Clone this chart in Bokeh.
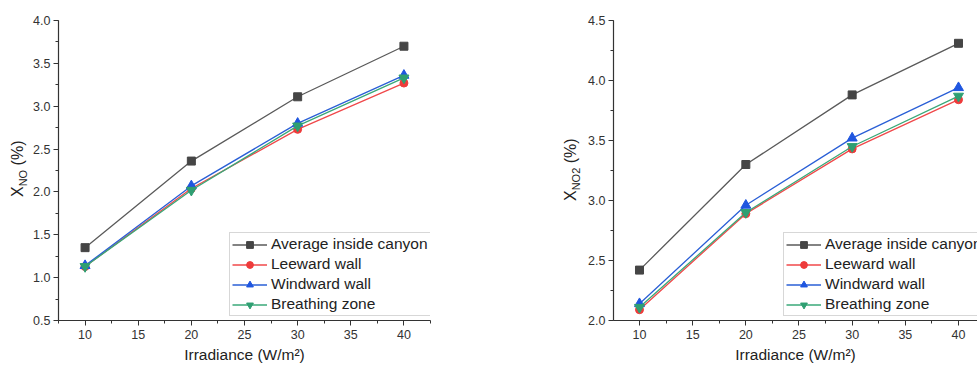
from bokeh.plotting import figure
from bokeh.layouts import row
from bokeh.models import Range1d, FixedTicker, PrintfTickFormatter, Legend, Div
from bokeh.embed import file_html
from bokeh.resources import INLINE

# ---- data ----
irradiance = [10, 20, 30, 40]
x_ticks = [10, 15, 20, 25, 30, 35, 40]
series_names = ["Average inside canyon", "Leeward wall", "Windward wall", "Breathing zone"]

no_average = [1.35, 2.36, 3.11, 3.70]
no_leeward = [1.13, 2.04, 2.73, 3.27]
no_windward = [1.14, 2.07, 2.80, 3.36]
no_breathing = [1.13, 2.02, 2.77, 3.33]
no_y_ticks = [0.5, 1.0, 1.5, 2.0, 2.5, 3.0, 3.5, 4.0]

no2_average = [2.42, 3.30, 3.88, 4.31]
no2_leeward = [2.09, 2.89, 3.43, 3.84]
no2_windward = [2.14, 2.96, 3.52, 3.94]
no2_breathing = [2.11, 2.90, 3.45, 3.87]
no2_y_ticks = [2.0, 2.5, 3.0, 3.5, 4.0, 4.5]

x_label = "Irradiance (W/m²)"
y_label_no = ("X", "NO", " (%)")
y_label_no2 = ("X", "NO2", " (%)")

FONT = "Liberation Sans"
H = 367
TOP = 20
BOTTOM = 47
styles = [
    dict(line="#5a5a5a", fill="#454545", marker="square", size=8),
    dict(line="#f0484a", fill="#ee3b3b", marker="circle", size=8),
    dict(line="#2a5fd6", fill="#1f56e0", marker="triangle", size=10),
    dict(line="#3aa878", fill="#2f9f72", marker="inverted_triangle", size=10),
]


def make_fig(width, border_left, border_right, xr, yr, yticks, series, legend_x):
    p = figure(width=width, height=H, output_backend="svg", toolbar_location=None,
               x_range=Range1d(*xr), y_range=Range1d(*yr),
               min_border_left=border_left, min_border_right=border_right,
               min_border_top=TOP, min_border_bottom=BOTTOM)
    p.outline_line_color = None
    p.xgrid.visible = False
    p.ygrid.visible = False
    p.background_fill_color = "white"
    p.border_fill_color = "white"

    p.xaxis.ticker = FixedTicker(ticks=x_ticks, minor_ticks=[7.5 + 2.5 * i for i in range(15)])
    p.yaxis.ticker = FixedTicker(ticks=yticks,
                                 minor_ticks=[yticks[0] + 0.25 * i for i in range(2 * len(yticks))])
    p.yaxis.formatter = PrintfTickFormatter(format="%.1f")
    for ax in (p.xaxis, p.yaxis):
        ax.axis_line_color = "#333333"
        ax.axis_line_width = 1.2
        ax.major_tick_line_color = "#333333"
        ax.minor_tick_line_color = "#333333"
        ax.major_tick_out = 5
        ax.major_tick_in = 0
        ax.minor_tick_out = 3
        ax.minor_tick_in = 0
        ax.major_label_text_font = FONT
        ax.major_label_text_font_size = "12.5px"
        ax.major_label_text_color = "#333333"
    p.xaxis.major_label_standoff = 4
    p.yaxis.major_label_standoff = 3
    p.xaxis.axis_label = x_label
    p.xaxis.axis_label_text_font = FONT
    p.xaxis.axis_label_text_font_size = "15.5px"
    p.xaxis.axis_label_text_font_style = "normal"
    p.xaxis.axis_label_text_color = "#222222"
    p.xaxis.axis_label_standoff = 4

    items = []
    for (name, ys, st) in zip(series_names, series, styles):
        r1 = p.line(irradiance, ys, line_color=st["line"], line_width=1.3)
        r2 = p.scatter(irradiance, ys, marker=st["marker"], size=st["size"],
                       fill_color=st["fill"], line_color=st["fill"])
        items.append((name, [r1, r2]))

    legend = Legend(items=items, location=(legend_x, 4))
    legend.label_text_font = FONT
    legend.label_text_font_size = "15.5px"
    legend.label_text_color = "#222222"
    legend.glyph_width = 35
    legend.glyph_height = 17
    legend.label_height = 17
    legend.spacing = 2
    legend.padding = 2
    legend.margin = 0
    legend.label_standoff = 4
    legend.border_line_color = "#b0b0b0"
    legend.border_line_width = 1
    legend.background_fill_alpha = 1.0
    p.add_layout(legend, "center")
    return p


def label_div(width, left, bottom, parts):
    """Narrow HTML panel holding the rotated y-axis title with a real subscript."""
    main, sub, rest = parts
    html = (
        f'<div style="position:relative;width:{width}px;height:{H}px;overflow:visible;">'
        f'<div style="position:absolute;left:{left}px;top:{bottom}px;transform:rotate(-90deg);'
        f"transform-origin:0 0;white-space:nowrap;font-family:'{FONT}';font-size:16px;"
        f'line-height:16px;color:#222222;">'
        f'{main}<sub style="font-size:11px;line-height:0;">{sub}</sub>{rest.replace(" ", "&nbsp;", 1)}'
        f'</div></div>'
    )
    return Div(text=html, width=width, height=H, margin=0)


l1 = label_div(28, 10, 197, y_label_no)
p1 = make_fig(532, 30, 130, (7.5, 42.5), (0.5, 4.0), no_y_ticks,
              [no_average, no_leeward, no_windward, no_breathing], 171)
l2 = label_div(24, 3, 201, y_label_no2)
p2 = make_fig(393, 29, 0, (7.555, 41.787), (2.0, 4.5), no2_y_ticks,
              [no2_average, no2_leeward, no2_windward, no2_breathing], 170)

layout = row(l1, p1, l2, p2, spacing=0)
open("out.html", "w").write(file_html(layout, INLINE))
